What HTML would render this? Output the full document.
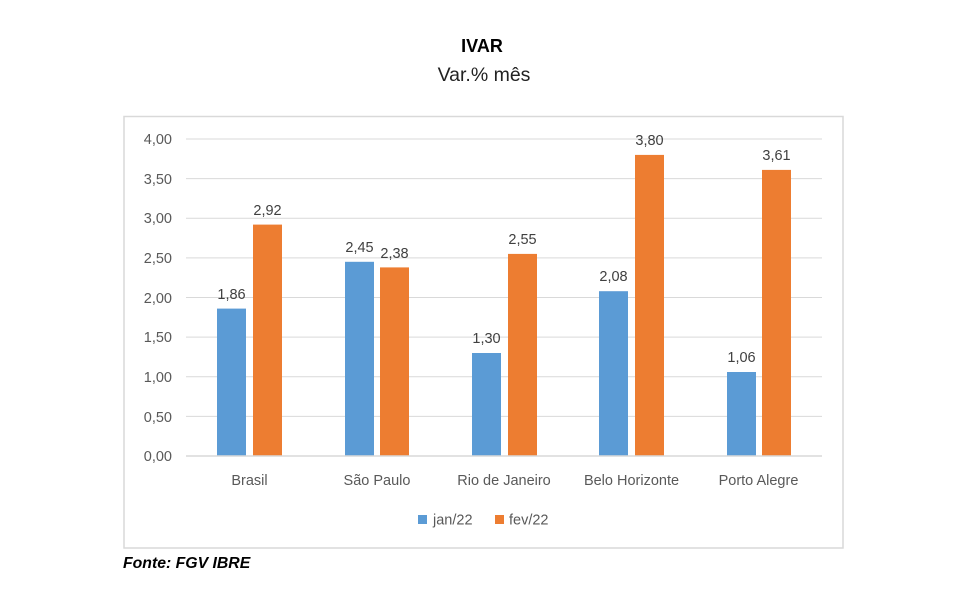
<!DOCTYPE html>
<html><head><meta charset="utf-8"><style>
body{margin:0;background:#fff;}
text{font-family:"Liberation Sans",sans-serif;}
</style></head><body>
<svg width="964" height="595" xmlns="http://www.w3.org/2000/svg">
<rect width="964" height="595" fill="#fff"/>
<text x="482" y="52" text-anchor="middle" font-size="18" font-weight="bold" fill="#000">IVAR</text>
<text x="484" y="81" text-anchor="middle" font-size="19.5" fill="#222">Var.% mês</text>
<rect x="124" y="116.5" width="719" height="431.5" fill="#fff" stroke="#d9d9d9" stroke-width="1.5"/>
<g stroke="#d9d9d9" stroke-width="1">
<line x1="186" x2="822" y1="139" y2="139"/>
<line x1="186" x2="822" y1="178.6" y2="178.6"/>
<line x1="186" x2="822" y1="218.3" y2="218.3"/>
<line x1="186" x2="822" y1="257.9" y2="257.9"/>
<line x1="186" x2="822" y1="297.5" y2="297.5"/>
<line x1="186" x2="822" y1="337.1" y2="337.1"/>
<line x1="186" x2="822" y1="376.8" y2="376.8"/>
<line x1="186" x2="822" y1="416.4" y2="416.4"/>
</g>
<g font-size="14.5" fill="#595959" text-anchor="end">
<text x="172" y="144">4,00</text>
<text x="172" y="184">3,50</text>
<text x="172" y="223">3,00</text>
<text x="172" y="263">2,50</text>
<text x="172" y="303">2,00</text>
<text x="172" y="342">1,50</text>
<text x="172" y="382">1,00</text>
<text x="172" y="422">0,50</text>
<text x="172" y="461">0,00</text>
</g>
<g>
<rect x="217" y="308.6" width="29" height="147.4" fill="#5b9bd5"/>
<rect x="253" y="224.6" width="29" height="231.4" fill="#ed7d31"/>
<rect x="345" y="261.8" width="29" height="194.2" fill="#5b9bd5"/>
<rect x="380" y="267.4" width="29" height="188.6" fill="#ed7d31"/>
<rect x="472" y="353" width="29" height="103" fill="#5b9bd5"/>
<rect x="508" y="253.9" width="29" height="202.1" fill="#ed7d31"/>
<rect x="599" y="291.2" width="29" height="164.8" fill="#5b9bd5"/>
<rect x="635" y="154.9" width="29" height="301.1" fill="#ed7d31"/>
<rect x="727" y="372" width="29" height="84" fill="#5b9bd5"/>
<rect x="762" y="169.9" width="29" height="286.1" fill="#ed7d31"/>
</g>
<line x1="186" x2="822" y1="456" y2="456" stroke="#d9d9d9" stroke-width="1.5"/>
<g font-size="14.5" fill="#404040" text-anchor="middle">
<text x="231.5" y="299">1,86</text>
<text x="267.5" y="215">2,92</text>
<text x="359.5" y="252">2,45</text>
<text x="394.5" y="258">2,38</text>
<text x="486.5" y="343">1,30</text>
<text x="522.5" y="244">2,55</text>
<text x="613.5" y="281">2,08</text>
<text x="649.5" y="145">3,80</text>
<text x="741.5" y="362">1,06</text>
<text x="776.5" y="160">3,61</text>
</g>
<g font-size="14.5" fill="#595959" text-anchor="middle">
<text x="249.5" y="485">Brasil</text>
<text x="377" y="485">São Paulo</text>
<text x="504" y="485">Rio de Janeiro</text>
<text x="631.5" y="485">Belo Horizonte</text>
<text x="758.5" y="485">Porto Alegre</text>
</g>
<rect x="418" y="515" width="9" height="9" fill="#5b9bd5"/>
<text x="433" y="524.5" font-size="14.5" fill="#595959">jan/22</text>
<rect x="495" y="515" width="9" height="9" fill="#ed7d31"/>
<text x="509" y="524.5" font-size="14.5" fill="#595959">fev/22</text>
<text x="123" y="568" font-size="15.8" font-weight="bold" font-style="italic" fill="#000">Fonte: FGV IBRE</text>
</svg>
</body></html>
